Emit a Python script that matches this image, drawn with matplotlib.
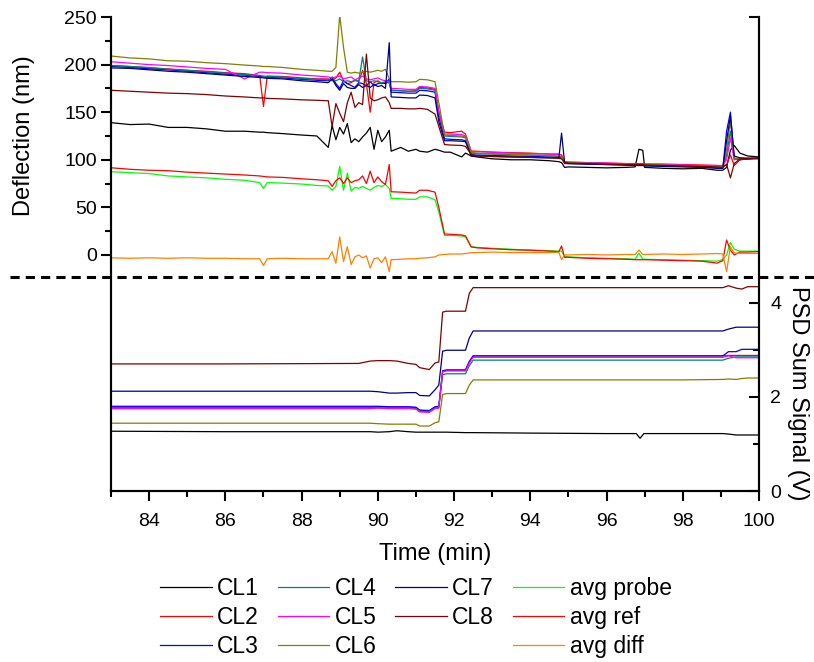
import matplotlib
matplotlib.use("Agg")
import matplotlib.pyplot as plt
from matplotlib.lines import Line2D

plt.rcParams['font.family'] = ['Liberation Sans', 'DejaVu Sans']

# time axis shared by the deflection traces (min)
t_defl = [83.0, 83.5, 84.0, 84.5, 85.0, 85.5, 86.0, 86.5, 86.9, 87.0, 87.1, 87.5, 88.0, 88.4,
          88.7, 88.8, 88.9, 89.0, 89.1, 89.2, 89.3, 89.4, 89.5, 89.6, 89.7, 89.8, 89.9, 90.0, 90.1, 90.2, 90.3,
          90.35, 90.6, 90.8, 91.0, 91.1, 91.3, 91.5, 91.6, 91.75, 91.9, 92.2, 92.3, 92.45, 92.6,
          93.0, 93.5, 94.0, 94.5, 94.75, 94.82, 94.9, 95.0,
          95.5, 96.0, 96.5, 96.75, 96.85, 96.95, 97.0, 97.5, 98.0, 98.5, 98.9,
          99.05, 99.15, 99.25, 99.35, 99.5, 99.7, 100.0]

# deflection (nm)
cl1 = [139, 137, 137.5, 134, 134, 132.5, 130, 130, 129, 129, 128.5, 127.5, 126, 125,
       113, 136, 121, 134, 127, 138, 118, 122, 119, 124, 128, 134, 111, 131, 119, 124, 131,
       109, 113, 109, 111, 109, 108, 111, 110, 108, 108, 103, 107, 104, 103,
       101, 100, 100, 99, 98, 97, 92, 92.5,
       92, 91.5, 92, 92.5, 111, 110, 92, 91, 90.5, 91, 89,
       89, 92, 110, 115, 107, 104, 103]
cl2 = [199, 198, 196.5, 195.5, 194, 193, 191.5, 190.5, 188.5, 156, 188, 187.5, 186, 185,
       185, 183, 186, 192, 183, 180, 181, 184, 182, 194, 180, 150, 181, 183, 180, 181, 181,
       173, 172.5, 172, 172.5, 176, 175.5, 174, 150, 129, 128.5, 130, 127, 109, 109,
       108, 107.5, 107, 106, 106, 105, 98, 97.5,
       97, 96.5, 96, 96, 96, 96, 95.5, 95.5, 95, 94.5, 94,
       93, 95, 105, 94, 100, 101, 102]
cl3 = [198, 197, 195.5, 194.5, 193, 191.5, 190, 189, 187.5, 187, 186.5, 186, 184.5, 183.5,
       183, 187, 180, 175, 183, 180, 178, 176, 181, 180, 178, 182, 178, 180, 181, 180, 185,
       171, 170.5, 170, 170, 173, 172.5, 171, 145, 122, 121.5, 121, 120, 105, 105,
       104.5, 104, 103.5, 103, 102.5, 102, 96, 96,
       95.5, 95, 94.5, 94, 94, 94, 94, 93.5, 93, 92.5, 91.5,
       91, 130, 150, 101, 100, 101, 101.5]
cl4 = [199, 198, 197, 195, 194, 192.5, 191, 189.5, 188.5, 188, 187.5, 187, 185.5, 184.5,
       184, 184, 183, 185, 182, 183, 182, 183, 183, 208, 183, 182, 183, 182, 181, 182, 181,
       173, 172.5, 172, 172, 175, 174.5, 173, 150, 125, 124.5, 124, 123, 107, 106.5,
       106, 105.5, 105, 104, 103.5, 103, 97, 96.5,
       96, 95.5, 95, 95, 95, 95, 94.5, 94, 93.5, 93, 92.5,
       92, 105, 130, 101, 101, 101, 102]
cl5 = [203, 201.5, 200, 199, 197.5, 196, 195, 185, 192, 192, 191.5, 191, 189, 188,
       187, 186, 187, 188, 185, 186, 187, 184, 186, 188, 185, 184, 185, 186, 184, 183, 182,
       175, 174.5, 174, 174, 177, 176.5, 175, 150, 127, 127, 126.5, 125, 109, 108.5,
       108, 107, 106.5, 106, 105.5, 105, 98, 97.5,
       97, 96.5, 96, 95.5, 95.5, 95.5, 95.5, 95, 94.5, 94, 94,
       94, 100, 123, 100, 102, 102, 102.5]
cl6 = [209, 207, 206, 204, 203.5, 202, 201, 199.5, 198.5, 198, 198, 197, 195, 194,
       193, 193, 197, 252, 218, 192, 191, 192, 191, 192, 193, 192, 193, 194, 193, 195, 185,
       182, 182, 181.5, 182, 184.5, 184, 182, 160, 126, 125.5, 125, 124, 108, 107,
       106.5, 106, 105, 104.5, 104, 103.5, 97, 97,
       96.5, 96, 95.5, 95, 95, 95, 95, 94.5, 94, 93.5, 93,
       93, 110, 141, 102, 101, 102, 102]
cl7 = [196.5, 196, 194.5, 193, 192, 190.5, 189, 187.5, 186.5, 186, 185.5, 185, 183, 182,
       181, 185, 178, 173, 180, 176, 175, 175, 179, 176, 178, 176, 179, 177, 178, 175, 223,
       166, 165.5, 165, 165, 168, 167.5, 165, 140, 120, 120, 119.5, 119, 104, 104,
       103.5, 103, 102.5, 102, 102, 128, 97, 96,
       95.5, 95, 94.5, 94, 94, 94, 93.5, 93, 92.5, 92, 91,
       91, 120, 146, 104, 102, 101, 102]
cl8 = [173, 172, 171, 170, 169.5, 168.5, 167, 166, 165, 165, 164.5, 164, 163, 162.5,
       162, 135, 159, 149, 140, 160, 171, 155, 160, 158, 211, 165, 162, 163, 165, 166, 160,
       154, 154, 153.5, 153.5, 154, 153, 148, 135, 116, 115.5, 115, 114, 106, 104,
       103.5, 103, 102.5, 102, 101.5, 101, 97, 96.5,
       96, 95.5, 95, 95, 95, 95, 94.5, 94, 93.5, 93, 92.5,
       92, 95, 81, 96, 101, 101, 101]
avg_probe = [87.5, 86.5, 85.5, 83, 82, 81, 79.5, 78.5, 76, 70, 76, 75.5, 74.5, 73,
             72.5, 68, 72, 93, 68, 86, 67, 71, 70, 72, 70, 68, 71, 73, 72, 74, 70,
             59.5, 59, 58.5, 58.5, 61, 61, 58, 45, 20.3, 20.5, 20, 19, 8.5, 8,
             7, 6, 5, 4.5, 4, 4, -1.5, -2,
             -3, -3.5, -4, -4.5, 2, -4.5, -4.5, -5, -5.5, -6, -6.5,
             -5, 0, 13, 6, 4, 4, 4]
avg_ref = [91.6, 90, 89, 88.5, 87, 86, 85, 84, 83, 82.5, 82, 81.5, 80, 79,
           78, 72, 78, 81, 75, 81, 76, 78, 79, 83, 75, 88, 76, 82, 77, 74, 95,
           66.4, 66, 65.5, 65, 68, 68, 66, 50, 22, 21.7, 21, 20, 8.5, 7.5,
           6.5, 5.5, 5, 4, 3.5, 9.4, -2.4, -2.5,
           -3.5, -4, -4.5, -5, -5, -5, -5, -5.5, -6, -6.5, -8.6,
           -6, 15.7, 5, 0, 3, 3, 3.5]
avg_diff = [-3, -3.5, -3, -3.5, -3, -3.5, -3.5, -4, -4, -11, -4, -3.5, -4, -4,
            -4, 3.5, -8.7, 19, -7, 8.7, -10, -2, 0, -3, -1, -13.7, -4, -3, -8, -2, -17.5,
            -5, -4.5, -4, -4, -3.5, -3, -2, 0, 0.5, 1, 1, 1.5, 2.4, 2.5,
            3, 2.5, 2.5, 2.5, 2.8, -5, 0, 0,
            0.5, 0, 0.5, 0.5, 5.2, 0.5, 0.5, 1, 0.5, 1, 1.5,
            1, -17.5, 8.7, 2, 1.7, 1.7, 1.7]

# PSD sum signal (V)
t_psd = [83.0, 86.0, 89.5, 89.8, 90.0, 90.3, 90.5, 90.8, 91.0, 91.1, 91.35, 91.5, 91.6, 91.7, 91.8,
         92.3, 92.4, 92.5, 94.0, 96.0, 96.78, 96.88, 96.98, 98.0, 99.05, 99.2, 99.4, 99.55, 99.7, 100.0]
psd_cl1 = [1.27, 1.26, 1.26, 1.26, 1.25, 1.26, 1.28, 1.26, 1.25, 1.25, 1.25, 1.25, 1.25, 1.25, 1.25,
           1.24, 1.24, 1.24, 1.23, 1.22, 1.22, 1.12, 1.22, 1.22, 1.22, 1.21, 1.19, 1.19, 1.19, 1.19]
psd_cl2 = [1.78, 1.78, 1.78, 1.78, 1.79, 1.78, 1.78, 1.78, 1.77, 1.71, 1.70, 1.78, 1.79, 2.55, 2.57,
           2.57, 2.75, 2.87, 2.87, 2.87, 2.87, 2.87, 2.87, 2.87, 2.87, 2.88, 2.88, 2.88, 2.88, 2.88]
psd_cl3 = [1.80, 1.80, 1.80, 1.80, 1.80, 1.79, 1.79, 1.79, 1.78, 1.72, 1.71, 1.79, 1.80, 2.55, 2.57,
           2.57, 2.75, 2.87, 2.87, 2.87, 2.87, 2.87, 2.87, 2.87, 2.87, 2.96, 2.96, 3.01, 3.01, 3.01]
psd_cl4 = [1.77, 1.77, 1.77, 1.77, 1.77, 1.76, 1.76, 1.76, 1.75, 1.69, 1.69, 1.76, 1.77, 2.47, 2.49,
           2.49, 2.66, 2.78, 2.78, 2.78, 2.78, 2.78, 2.78, 2.78, 2.78, 2.82, 2.85, 2.85, 2.85, 2.85]
psd_cl5 = [1.75, 1.75, 1.75, 1.75, 1.76, 1.75, 1.75, 1.75, 1.74, 1.68, 1.67, 1.75, 1.76, 2.53, 2.55,
           2.55, 2.72, 2.84, 2.84, 2.84, 2.84, 2.84, 2.84, 2.84, 2.84, 2.87, 2.83, 2.83, 2.83, 2.83]
psd_cl6 = [1.44, 1.44, 1.44, 1.44, 1.43, 1.42, 1.42, 1.42, 1.42, 1.38, 1.38, 1.45, 1.47, 2.05, 2.07,
           2.07, 2.25, 2.36, 2.36, 2.36, 2.36, 2.36, 2.36, 2.36, 2.37, 2.38, 2.37, 2.39, 2.40, 2.40]
psd_cl7 = [2.12, 2.12, 2.12, 2.12, 2.11, 2.08, 2.08, 2.09, 2.09, 2.03, 2.02, 2.15, 2.25, 2.97, 2.99,
           2.99, 3.25, 3.40, 3.40, 3.40, 3.40, 3.40, 3.40, 3.40, 3.40, 3.44, 3.48, 3.48, 3.48, 3.48]
psd_cl8 = [2.70, 2.70, 2.71, 2.76, 2.77, 2.77, 2.76, 2.71, 2.69, 2.62, 2.58, 2.72, 2.74, 3.80, 3.82,
           3.82, 4.20, 4.32, 4.32, 4.32, 4.32, 4.32, 4.32, 4.32, 4.32, 4.36, 4.31, 4.29, 4.34, 4.34]

labels = ['CL1', 'CL2', 'CL3', 'CL4', 'CL5', 'CL6', 'CL7', 'CL8']
colors = ['#000000', '#ff0000', '#0000ff', '#008080', '#ff00ff', '#808000', '#000080', '#800000']
defl = [cl1, cl2, cl3, cl4, cl5, cl6, cl7, cl8]
psd = [psd_cl1, psd_cl2, psd_cl3, psd_cl4, psd_cl5, psd_cl6, psd_cl7, psd_cl8]

fig = plt.figure(figsize=(8.14, 6.62), dpi=100)
ax = fig.add_axes([111/814, 1 - 491/662, 648/814, 474/662])
ax2 = ax.twinx()

lw = 0.9
handles = {}
for name, c, y, p in zip(labels, colors, defl, psd):
    handles[name], = ax.plot(t_defl, y, color=c, lw=lw)
    ax2.plot(t_psd, p, color=c, lw=lw)
h_probe, = ax.plot(t_defl, avg_probe, color='#00ff00', lw=lw)
h_ref, = ax.plot(t_defl, avg_ref, color='#ff0000', lw=lw)
h_diff, = ax.plot(t_defl, avg_diff, color='#ff8000', lw=lw)

ax.set_xlim(83, 100)
ax.set_ylim(-248, 250)
ax2.set_ylim(0, 10.07)

ax.set_xticks(range(84, 101, 2))
ax.set_xticks(range(83, 101), minor=True)
ax.set_yticks(range(0, 251, 50))
ax.set_yticks(range(25, 250, 50), minor=True)
ax2.set_yticks([0, 2, 4, 10.07])
ax2.set_yticklabels(['0', '2', '4', ''])
ax2.set_yticks([1, 3], minor=True)

for a in (ax, ax2):
    a.spines['top'].set_visible(False)
    for s in a.spines.values():
        s.set_linewidth(1.5)
ax.tick_params(axis='both', which='major', direction='out', length=7, width=1.5, labelsize=14)
ax.tick_params(axis='both', which='minor', direction='out', length=4, width=1.5)
ax.tick_params(axis='x', pad=9)
ax.tick_params(axis='y', pad=3)
ax2.tick_params(axis='y', which='major', direction='in', length=7, width=1.5, labelsize=14, pad=8)
ax2.tick_params(axis='y', which='minor', direction='in', length=4, width=1.5)

ax.set_xlabel('Time (min)', fontsize=17, labelpad=9)
ax.set_ylabel('Deflection (nm)', fontsize=17)
ax.yaxis.set_label_coords(-0.117, 0.749)
ax2.set_ylabel('PSD Sum Signal (V)', fontsize=17, rotation=270, va='center')
ax2.yaxis.set_label_coords(1.06, 0.207)

# dashed separator between the two panels
fig.add_artist(Line2D([10/814, 1.0], [1 - 277/662, 1 - 277/662], transform=fig.transFigure,
                      color='k', lw=2.2, ls=(0, (3, 2))))

blank = Line2D([], [], color='none')
leg_handles = [handles['CL1'], handles['CL2'], handles['CL3'],
               handles['CL4'], handles['CL5'], handles['CL6'],
               handles['CL7'], handles['CL8'], blank,
               h_probe, h_ref, h_diff]
leg_labels = ['CL1', 'CL2', 'CL3', 'CL4', 'CL5', 'CL6', 'CL7', 'CL8', '',
              'avg probe', 'avg ref', 'avg diff']
fig.legend(leg_handles, leg_labels, ncol=4, loc='center', bbox_to_anchor=(0.511, 0.067),
           frameon=False, fontsize=16.5, handlelength=2.25, handletextpad=0.25,
           columnspacing=0.8, labelspacing=0.25, borderpad=0.2)

fig.savefig('out.png', dpi=100)
